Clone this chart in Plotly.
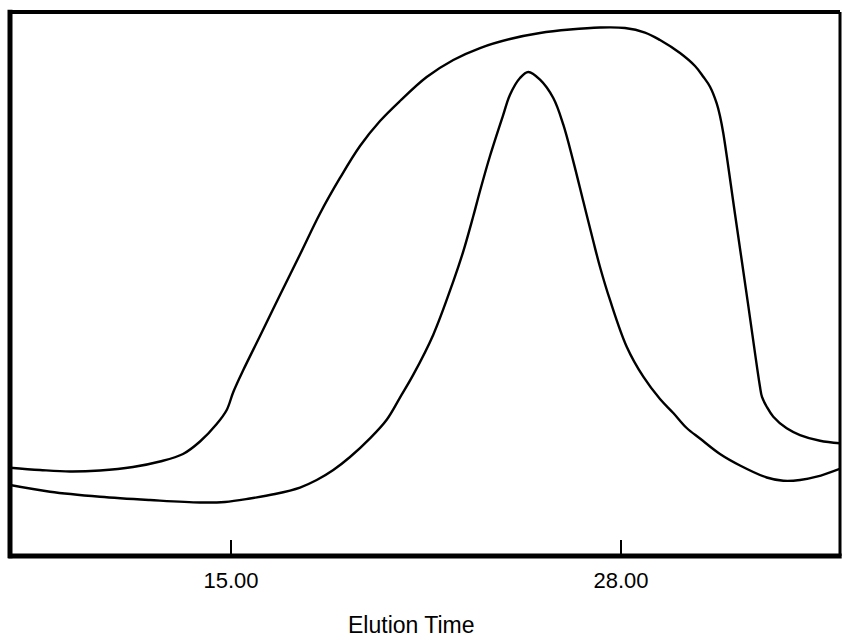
import plotly.graph_objects as go

# Elution time (x) and relative detector response (y, arbitrary units 0-100)
broad_time = [7.633, 8.633, 9.633, 10.633, 11.733, 12.633, 13.4, 13.967, 14.523, 14.857,
              15.077, 15.41, 15.967, 16.633, 17.3, 17.967, 18.633, 19.3, 19.967, 20.633,
              21.523, 22.41, 23.3, 24.3, 25.3, 26.3, 27.3, 28.133, 28.8, 29.3,
              29.967, 30.467, 30.743, 30.967, 31.19, 31.3, 31.41, 31.8, 32.233, 32.633,
              32.7, 32.857, 33.077, 33.523, 33.967, 34.633, 35.3]
broad_resp = [16.23, 15.81, 15.53, 15.72, 16.36, 17.37, 18.75, 21.05, 24.26, 26.84,
              30.15, 34.19, 40.44, 47.98, 55.42, 62.96, 69.49, 75.37, 79.96, 83.64,
              88.05, 91.18, 93.38, 95.04, 96.14, 96.78, 97.15, 97.06, 96.23, 94.85,
              92.46, 90.07, 88.11, 86.27, 83.21, 80.88, 77.70, 62.87, 46.40, 31.12,
              29.23, 27.44, 25.61, 23.47, 22.24, 21.19, 20.72]

narrow_time = [7.633, 8.967, 10.633, 12.3, 13.967, 14.8, 15.633, 16.467, 17.3, 17.857,
               18.41, 18.967, 19.633, 20.19, 20.633, 21.077, 21.743, 22.41, 22.743, 23.077,
               23.3, 23.633, 24.077, 24.3, 24.633, 24.91, 25.3, 25.743, 26.077, 26.41,
               26.743, 27.077, 27.3, 27.633, 28.19, 28.743, 29.3, 29.743, 30.19, 30.633,
               31.3, 31.967, 32.857, 33.41, 33.967, 34.523, 35.333]
narrow_resp = [13.05, 11.82, 10.90, 10.29, 9.83, 9.93, 10.57, 11.40, 12.59, 13.97,
               15.81, 18.20, 21.63, 25.06, 29.13, 33.33, 40.69, 50.49, 56.00, 62.50,
               67.10, 73.53, 81.13, 84.80, 87.87, 88.97, 87.56, 84.19, 79.29, 72.55,
               65.20, 57.85, 53.13, 47.06, 38.47, 32.96, 28.86, 26.29, 23.53, 21.60,
               18.75, 16.64, 14.43, 13.84, 13.97, 14.58, 16.12]

tick_vals = [15, 28]
tick_text = ["15.00", "28.00"]
x_title = "Elution Time"

FONT = "Liberation Sans, Arial, Helvetica, sans-serif"

fig = go.Figure()
for xs, ys in [(broad_time, broad_resp), (narrow_time, narrow_resp)]:
    fig.add_trace(go.Scatter(
        x=xs, y=ys, mode="lines",
        line=dict(color="black", width=2.4, shape="spline", smoothing=1.0),
        showlegend=False, hoverinfo="skip"))

fig.update_layout(
    width=842, height=639,
    margin=dict(l=10, r=2, t=12, b=83),
    paper_bgcolor="white", plot_bgcolor="white",
    font=dict(family=FONT, color="black"),
    xaxis=dict(range=[7.6333, 35.3], tickvals=tick_vals, ticktext=tick_text,
               ticks="inside", ticklen=16, tickwidth=2, tickcolor="black",
               showgrid=False, zeroline=False, showline=False,
               tickfont=dict(size=22, family=FONT, color="black"),
               ticklabelstandoff=9),
    yaxis=dict(range=[0, 100], showticklabels=False, ticks="",
               showgrid=False, zeroline=False, showline=False),
    shapes=[
        dict(type="line", xref="paper", yref="paper", x0=0, x1=0, y0=-0.004, y1=1.004,
             line=dict(color="black", width=5), layer="above"),
        dict(type="line", xref="paper", yref="paper", x0=0, x1=1, y0=1, y1=1,
             line=dict(color="black", width=4), layer="above"),
        dict(type="line", xref="paper", yref="paper", x0=1, x1=1, y0=0, y1=1,
             line=dict(color="black", width=3), layer="above"),
        dict(type="line", xref="paper", yref="paper", x0=-0.002, x1=1.002, y0=0, y1=0,
             line=dict(color="black", width=5), layer="above"),
    ],
    annotations=[dict(text=x_title, xref="paper", yref="paper", x=0.4843, y=-0.1265,
                      xanchor="center", yanchor="middle", showarrow=False,
                      font=dict(size=23, family=FONT, color="black"))],
)

fig.write_html("out.html")
